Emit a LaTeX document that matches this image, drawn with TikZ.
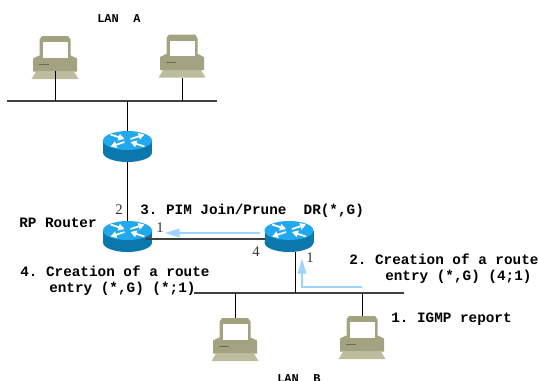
\documentclass[tikz,border=0pt]{standalone}
\usepackage{xcolor}
\usepackage{fontspec}
\setmainfont{Liberation Serif}
\setmonofont{Liberation Mono}
\usepackage{tikz}
\usetikzlibrary{arrows.meta}
\usetikzlibrary{calc}
\definecolor{pcbody}{rgb}{0.64,0.64,0.51}
\definecolor{pclight}{rgb}{0.74,0.74,0.62}
\definecolor{pcdark}{rgb}{0.42,0.42,0.33}
\definecolor{rttop}{rgb}{0.13,0.66,0.93}
\definecolor{rtside}{rgb}{0.04,0.47,0.68}
\definecolor{signal}{rgb}{0.62,0.83,1.0}
\tikzset{
	routerbox/.style={minimum width=36.75pt,minimum height=23.25pt,inner sep=0pt},
	pcbox/.style={minimum width=35.25pt,minimum height=32.25pt,inner sep=0pt},
	routericon/.pic={
		\fill[rtside] (0,6) ellipse [x radius=24.5,y radius=9.5];
		\fill[rtside] (-24.5,-6) rectangle (24.5,6);
		\fill[rttop] (0,-6) ellipse [x radius=24.5,y radius=9.5];
		\draw[white,line width=1.3pt,-{Triangle[width=5pt,length=4.5pt]}] (-17,-12) -- (-3,-7.5);
		\draw[white,line width=1.3pt,-{Triangle[width=5pt,length=4.5pt]}] (17,0) -- (3,-4.5);
		\draw[white,line width=1.3pt,-{Triangle[width=5pt,length=4.5pt]}] (3,-7.5) -- (17,-12);
		\draw[white,line width=1.3pt,-{Triangle[width=5pt,length=4.5pt]}] (-3,-4.5) -- (-17,0);
	},
	pcicon/.pic={
		\fill[pclight] (-23.5,21.5) -- (-19,14) -- (19,14) -- (23.5,21.5) -- cycle;
		\fill[pcbody] (-22,1) -- (-16,-2) -- (16,-2) -- (22,1) -- (22,14) -- (-22,14) -- cycle;
		\fill[pcbody] (-15.5,3) -- (-15.5,-18) -- (-13,-21.5) -- (13,-21.5) -- (15.5,-18) -- (15.5,3) -- cycle;
		\fill[white] (-12.5,-15.5) rectangle (12.5,0);
		\draw[pcdark,line width=0.75pt] (-16,6.5) -- (-6,6.5);
	},
	wire/.style={black,line width=0.75pt},
	bus/.style={black!75,line width=0.9pt},
	signalarrow/.style={signal,line width=0.9pt,-{Triangle[width=6.5pt,length=11pt]}},
	lbl/.style={font=\fontsize{10.75}{13}\selectfont\ttfamily\bfseries,anchor=west,inner sep=0pt},
	lansize/.style={font=\fontsize{9}{11}\selectfont\ttfamily\bfseries},
	port/.style={font=\fontsize{11}{13}\selectfont\rmfamily,inner sep=0pt,text=black!80}
}

\begin{document}
\begin{tikzpicture}[x=0.75pt,y=-0.75pt]
	\useasboundingbox (0,0) rectangle (538,380);
	% devices
	\foreach \name/\pos in {A1/{55,57.5},A2/{182,56},B1/{235,339.5},B2/{362,337.5}} {
		\node[pcbox] (\name) at (\pos) {};
		\pic at (\pos) {pcicon};
	}
	\foreach \name/\pos in {R1/{127.5,146.5},RP/{127.5,236.5},DR/{289,236.5}} {
		\node[routerbox] (\name) at (\pos) {};
		\pic at (\pos) {routericon};
	}
	\coordinate (A1port) at (55,71);
	\coordinate (RPport) at (146,239);
	\coordinate (DRport) at (265,239);
	\coordinate (DRdown) at (295,252);
	\coordinate (busAl) at (7,101);
	\coordinate (busAr) at (217,101);
	\coordinate (busBl) at (194,293);
	\coordinate (busBr) at (404,293);
	% LANs
	\draw[bus] (busAl) -- (busAr);
	\draw[bus] (busBl) -- (busBr);
	\draw[wire] (A1port) -- (A1port |- busAl);
	\draw[wire] (A2.south) -- (A2.south |- busAl);
	\draw[wire] (R1.north) -- (R1.north |- busAl);
	\draw[wire] (R1.south) -- (RP.north);
	\draw[bus] (RPport) -- (DRport);
	\draw[wire] (DRdown) -- (DRdown |- busBl);
	\draw[wire] (B1.north) -- (B1.north |- busBl);
	\draw[wire] (B2.north) -- (B2.north |- busBl);
	% signalling
	\coordinate (joinFrom) at (260,233);
	\coordinate (joinTo) at (165,233);
	\coordinate (igmpFrom) at (362,287);
	\coordinate (igmpTo) at (302,259);
	\draw[signalarrow] (joinFrom) -- (joinTo);
	\draw[signalarrow] (igmpFrom) -| (igmpTo);
	% text
	\node[lbl,lansize] (lanA) at (97,19) {LAN\ \ A};
	\node[lbl,lansize] (lanB) at (277,379) {LAN\ \ B};
	\node[lbl] (rpText) at (19,223) {RP Router};
	\node[lbl] (pimText) at (140,211) {3. PIM Join/Prune\ \ DR(*,G)};
	\node[lbl] (igmpText) at (391,319) {1. IGMP report};
	\node[lbl] (dr1Text) at (349,259) {2. Creation of a route};
	\node[lbl] (dr2Text) at (385,277) {entry (*,G) (4;1)};
	\node[lbl] (rp1Text) at (20,271) {4. Creation of a route};
	\node[lbl] (rp2Text) at (49,289) {entry (*,G) (*;1)};
	\node[port] (p2) at (119,210) {2};
	\node[port] (p1) at (160,228) {1};
	\node[port] (p4) at (256,252) {4};
	\node[port] (p1b) at (310,258) {1};
\end{tikzpicture}
\end{document}
